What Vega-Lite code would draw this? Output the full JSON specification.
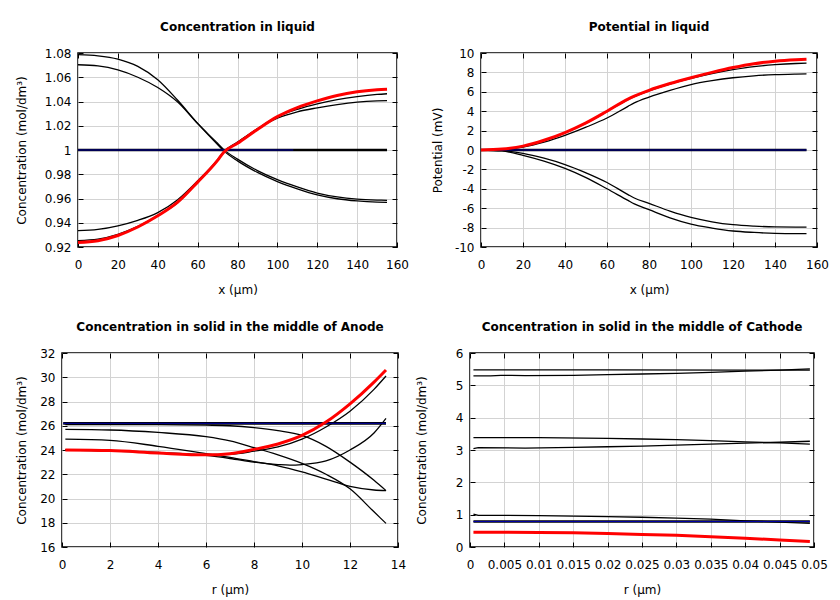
{
  "$schema": "https://vega.github.io/schema/vega-lite/v6.json",
  "padding": {"left": 0, "top": 20, "right": 4, "bottom": 4},
  "background": "white",
  "datasets": {
    "liq": [
      {"x":0,"y":1.0786,"s":"A"},{"x":10,"y":1.0777,"s":"A"},{"x":20,"y":1.075,"s":"A"},{"x":30,"y":1.069,"s":"A"},{"x":40,"y":1.058,"s":"A"},{"x":50,"y":1.041,"s":"A"},{"x":60,"y":1.022,"s":"A"},{"x":70,"y":1.0045,"s":"A"},{"x":73,"y":0.9995,"s":"A"},{"x":80,"y":0.991,"s":"A"},{"x":90,"y":0.9815,"s":"A"},{"x":100,"y":0.974,"s":"A"},{"x":110,"y":0.968,"s":"A"},{"x":120,"y":0.963,"s":"A"},{"x":130,"y":0.9598,"s":"A"},{"x":140,"y":0.958,"s":"A"},{"x":150,"y":0.957,"s":"A"},{"x":155,"y":0.9568,"s":"A"},
      {"x":0,"y":1.0703,"s":"B"},{"x":10,"y":1.0693,"s":"B"},{"x":20,"y":1.066,"s":"B"},{"x":30,"y":1.06,"s":"B"},{"x":40,"y":1.0515,"s":"B"},{"x":50,"y":1.0395,"s":"B"},{"x":60,"y":1.0218,"s":"B"},{"x":70,"y":1.0055,"s":"B"},{"x":73,"y":1.0005,"s":"B"},{"x":80,"y":0.9925,"s":"B"},{"x":90,"y":0.983,"s":"B"},{"x":100,"y":0.9755,"s":"B"},{"x":110,"y":0.9695,"s":"B"},{"x":120,"y":0.9645,"s":"B"},{"x":130,"y":0.9613,"s":"B"},{"x":140,"y":0.9595,"s":"B"},{"x":150,"y":0.9587,"s":"B"},{"x":155,"y":0.9585,"s":"B"},
      {"x":0,"y":0.9335,"s":"C"},{"x":10,"y":0.9345,"s":"C"},{"x":20,"y":0.9375,"s":"C"},{"x":30,"y":0.942,"s":"C"},{"x":40,"y":0.9484,"s":"C"},{"x":50,"y":0.959,"s":"C"},{"x":60,"y":0.9745,"s":"C"},{"x":70,"y":0.992,"s":"C"},{"x":73,"y":0.9985,"s":"C"},{"x":80,"y":1.0065,"s":"C"},{"x":90,"y":1.0175,"s":"C"},{"x":100,"y":1.0262,"s":"C"},{"x":110,"y":1.0315,"s":"C"},{"x":120,"y":1.0348,"s":"C"},{"x":130,"y":1.0375,"s":"C"},{"x":140,"y":1.0395,"s":"C"},{"x":150,"y":1.0405,"s":"C"},{"x":155,"y":1.0407,"s":"C"},
      {"x":0,"y":0.9253,"s":"D"},{"x":10,"y":0.9265,"s":"D"},{"x":20,"y":0.9305,"s":"D"},{"x":30,"y":0.937,"s":"D"},{"x":40,"y":0.946,"s":"D"},{"x":50,"y":0.9565,"s":"D"},{"x":60,"y":0.9735,"s":"D"},{"x":70,"y":0.9915,"s":"D"},{"x":73,"y":0.998,"s":"D"},{"x":80,"y":1.006,"s":"D"},{"x":90,"y":1.0175,"s":"D"},{"x":100,"y":1.0275,"s":"D"},{"x":110,"y":1.0335,"s":"D"},{"x":120,"y":1.038,"s":"D"},{"x":130,"y":1.0415,"s":"D"},{"x":140,"y":1.044,"s":"D"},{"x":150,"y":1.0458,"s":"D"},{"x":155,"y":1.0464,"s":"D"},
      {"x":0,"y":1.0,"s":"flat"},{"x":155,"y":1.0,"s":"flat"},
      {"x":0,"y":1.0,"s":"init"},{"x":108,"y":1.0,"s":"init"},
      {"x":0,"y":0.9238,"s":"last"},{"x":10,"y":0.9252,"s":"last"},{"x":20,"y":0.9295,"s":"last"},{"x":30,"y":0.9365,"s":"last"},{"x":40,"y":0.9457,"s":"last"},{"x":50,"y":0.957,"s":"last"},{"x":60,"y":0.9735,"s":"last"},{"x":70,"y":0.9915,"s":"last"},{"x":73,"y":0.998,"s":"last"},{"x":80,"y":1.0055,"s":"last"},{"x":90,"y":1.017,"s":"last"},{"x":100,"y":1.0275,"s":"last"},{"x":110,"y":1.035,"s":"last"},{"x":120,"y":1.0405,"s":"last"},{"x":130,"y":1.045,"s":"last"},{"x":140,"y":1.048,"s":"last"},{"x":150,"y":1.0497,"s":"last"},{"x":155,"y":1.0502,"s":"last"}
    ],
    "pot": [
      {"x":0,"y":0,"s":"U1"},{"x":10,"y":0.09,"s":"U1"},{"x":20,"y":0.38,"s":"U1"},{"x":30,"y":0.97,"s":"U1"},{"x":40,"y":1.77,"s":"U1"},{"x":50,"y":2.76,"s":"U1"},{"x":60,"y":3.96,"s":"U1"},{"x":70,"y":5.2,"s":"U1"},{"x":73,"y":5.5,"s":"U1"},{"x":80,"y":6.1,"s":"U1"},{"x":90,"y":6.8,"s":"U1"},{"x":100,"y":7.38,"s":"U1"},{"x":110,"y":7.88,"s":"U1"},{"x":120,"y":8.28,"s":"U1"},{"x":130,"y":8.6,"s":"U1"},{"x":140,"y":8.8,"s":"U1"},{"x":150,"y":8.92,"s":"U1"},{"x":155,"y":8.95,"s":"U1"},
      {"x":0,"y":0,"s":"U2"},{"x":10,"y":0.07,"s":"U2"},{"x":20,"y":0.3,"s":"U2"},{"x":30,"y":0.8,"s":"U2"},{"x":40,"y":1.5,"s":"U2"},{"x":50,"y":2.35,"s":"U2"},{"x":60,"y":3.3,"s":"U2"},{"x":70,"y":4.5,"s":"U2"},{"x":73,"y":4.85,"s":"U2"},{"x":80,"y":5.45,"s":"U2"},{"x":90,"y":6.15,"s":"U2"},{"x":100,"y":6.75,"s":"U2"},{"x":110,"y":7.15,"s":"U2"},{"x":120,"y":7.45,"s":"U2"},{"x":130,"y":7.65,"s":"U2"},{"x":140,"y":7.77,"s":"U2"},{"x":150,"y":7.83,"s":"U2"},{"x":155,"y":7.85,"s":"U2"},
      {"x":0,"y":0,"s":"L1"},{"x":10,"y":-0.07,"s":"L1"},{"x":20,"y":-0.35,"s":"L1"},{"x":30,"y":-0.85,"s":"L1"},{"x":40,"y":-1.5,"s":"L1"},{"x":50,"y":-2.35,"s":"L1"},{"x":60,"y":-3.35,"s":"L1"},{"x":70,"y":-4.6,"s":"L1"},{"x":73,"y":-4.95,"s":"L1"},{"x":80,"y":-5.5,"s":"L1"},{"x":90,"y":-6.3,"s":"L1"},{"x":100,"y":-6.95,"s":"L1"},{"x":110,"y":-7.4,"s":"L1"},{"x":120,"y":-7.7,"s":"L1"},{"x":130,"y":-7.85,"s":"L1"},{"x":140,"y":-7.93,"s":"L1"},{"x":150,"y":-7.95,"s":"L1"},{"x":155,"y":-7.95,"s":"L1"},
      {"x":0,"y":0,"s":"L2"},{"x":10,"y":-0.1,"s":"L2"},{"x":20,"y":-0.55,"s":"L2"},{"x":30,"y":-1.15,"s":"L2"},{"x":40,"y":-1.9,"s":"L2"},{"x":50,"y":-2.85,"s":"L2"},{"x":60,"y":-4.0,"s":"L2"},{"x":70,"y":-5.2,"s":"L2"},{"x":73,"y":-5.55,"s":"L2"},{"x":80,"y":-6.15,"s":"L2"},{"x":90,"y":-7.0,"s":"L2"},{"x":100,"y":-7.65,"s":"L2"},{"x":110,"y":-8.05,"s":"L2"},{"x":120,"y":-8.35,"s":"L2"},{"x":130,"y":-8.5,"s":"L2"},{"x":140,"y":-8.6,"s":"L2"},{"x":150,"y":-8.63,"s":"L2"},{"x":155,"y":-8.62,"s":"L2"},
      {"x":0,"y":0,"s":"flat"},{"x":155,"y":0,"s":"flat"},
      {"x":0,"y":0,"s":"init"},{"x":155,"y":0,"s":"init"},
      {"x":0,"y":0,"s":"last"},{"x":10,"y":0.1,"s":"last"},{"x":20,"y":0.4,"s":"last"},{"x":30,"y":1.0,"s":"last"},{"x":40,"y":1.8,"s":"last"},{"x":50,"y":2.8,"s":"last"},{"x":60,"y":4.0,"s":"last"},{"x":70,"y":5.25,"s":"last"},{"x":73,"y":5.55,"s":"last"},{"x":80,"y":6.15,"s":"last"},{"x":90,"y":6.85,"s":"last"},{"x":100,"y":7.45,"s":"last"},{"x":110,"y":8.0,"s":"last"},{"x":120,"y":8.5,"s":"last"},{"x":130,"y":8.9,"s":"last"},{"x":140,"y":9.15,"s":"last"},{"x":150,"y":9.3,"s":"last"},{"x":155,"y":9.35,"s":"last"}
    ],
    "anode": [
      {"x":0.14,"y":26.1,"s":"P"},{"x":2,"y":26.1,"s":"P"},{"x":4,"y":26.1,"s":"P"},{"x":6,"y":26.05,"s":"P"},{"x":7,"y":26.0,"s":"P"},{"x":8,"y":25.85,"s":"P"},{"x":9,"y":25.6,"s":"P"},{"x":10,"y":25.2,"s":"P"},{"x":11,"y":24.3,"s":"P"},{"x":12,"y":23.0,"s":"P"},{"x":13,"y":21.5,"s":"P"},{"x":13.5,"y":20.65,"s":"P"},
      {"x":0.14,"y":25.7,"s":"Q"},{"x":2,"y":25.65,"s":"Q"},{"x":4,"y":25.45,"s":"Q"},{"x":6,"y":25.1,"s":"Q"},{"x":7,"y":24.75,"s":"Q"},{"x":8,"y":24.2,"s":"Q"},{"x":9,"y":23.6,"s":"Q"},{"x":10,"y":22.9,"s":"Q"},{"x":11,"y":22.0,"s":"Q"},{"x":12,"y":20.8,"s":"Q"},{"x":13,"y":18.9,"s":"Q"},{"x":13.5,"y":17.95,"s":"Q"},
      {"x":0.14,"y":24.9,"s":"S"},{"x":2,"y":24.8,"s":"S"},{"x":4,"y":24.3,"s":"S"},{"x":6,"y":23.7,"s":"S"},{"x":7,"y":23.4,"s":"S"},{"x":8,"y":23.05,"s":"S"},{"x":9,"y":22.7,"s":"S"},{"x":10,"y":22.2,"s":"S"},{"x":11,"y":21.6,"s":"S"},{"x":12,"y":21.0,"s":"S"},{"x":13,"y":20.7,"s":"S"},{"x":13.5,"y":20.65,"s":"S"},
      {"x":0.14,"y":24.0,"s":"R"},{"x":2,"y":23.95,"s":"R"},{"x":4,"y":23.8,"s":"R"},{"x":6,"y":23.55,"s":"R"},{"x":7,"y":23.3,"s":"R"},{"x":8,"y":23.0,"s":"R"},{"x":9,"y":22.8,"s":"R"},{"x":9.5,"y":22.75,"s":"R"},{"x":10,"y":22.8,"s":"R"},{"x":11,"y":23.1,"s":"R"},{"x":12,"y":24.0,"s":"R"},{"x":13,"y":25.4,"s":"R"},{"x":13.5,"y":26.6,"s":"R"},
      {"x":0.14,"y":24.0,"s":"T"},{"x":2,"y":23.93,"s":"T"},{"x":4,"y":23.75,"s":"T"},{"x":6,"y":23.62,"s":"T"},{"x":7,"y":23.65,"s":"T"},{"x":8,"y":23.9,"s":"T"},{"x":9,"y":24.25,"s":"T"},{"x":10,"y":24.9,"s":"T"},{"x":11,"y":25.9,"s":"T"},{"x":12,"y":27.2,"s":"T"},{"x":13,"y":29.0,"s":"T"},{"x":13.5,"y":30.1,"s":"T"},
      {"x":0.05,"y":26.2,"s":"flat"},{"x":13.5,"y":26.2,"s":"flat"},
      {"x":0.05,"y":26.2,"s":"init"},{"x":13.5,"y":26.2,"s":"init"},
      {"x":0.14,"y":24.0,"s":"last"},{"x":2,"y":23.95,"s":"last"},{"x":4,"y":23.75,"s":"last"},{"x":6,"y":23.6,"s":"last"},{"x":7,"y":23.7,"s":"last"},{"x":8,"y":24.05,"s":"last"},{"x":9,"y":24.5,"s":"last"},{"x":10,"y":25.2,"s":"last"},{"x":11,"y":26.3,"s":"last"},{"x":12,"y":27.8,"s":"last"},{"x":13,"y":29.6,"s":"last"},{"x":13.5,"y":30.6,"s":"last"}
    ],
    "cath": [
      {"x":0.0005,"y":5.48,"s":"K1"},{"x":0.02,"y":5.48,"s":"K1"},{"x":0.04,"y":5.47,"s":"K1"},{"x":0.0494,"y":5.47,"s":"K1"},
      {"x":0.0005,"y":5.29,"s":"K2"},{"x":0.003,"y":5.29,"s":"K2"},{"x":0.0045,"y":5.31,"s":"K2"},{"x":0.006,"y":5.31,"s":"K2"},{"x":0.008,"y":5.3,"s":"K2"},{"x":0.015,"y":5.31,"s":"K2"},{"x":0.02,"y":5.33,"s":"K2"},{"x":0.025,"y":5.35,"s":"K2"},{"x":0.03,"y":5.37,"s":"K2"},{"x":0.035,"y":5.4,"s":"K2"},{"x":0.04,"y":5.44,"s":"K2"},{"x":0.045,"y":5.47,"s":"K2"},{"x":0.0494,"y":5.51,"s":"K2"},
      {"x":0.0005,"y":3.38,"s":"K3"},{"x":0.01,"y":3.38,"s":"K3"},{"x":0.02,"y":3.36,"s":"K3"},{"x":0.025,"y":3.34,"s":"K3"},{"x":0.03,"y":3.32,"s":"K3"},{"x":0.035,"y":3.29,"s":"K3"},{"x":0.04,"y":3.25,"s":"K3"},{"x":0.045,"y":3.22,"s":"K3"},{"x":0.0494,"y":3.18,"s":"K3"},
      {"x":0.0005,"y":3.04,"s":"K4"},{"x":0.0012,"y":3.07,"s":"K4"},{"x":0.008,"y":3.06,"s":"K4"},{"x":0.015,"y":3.08,"s":"K4"},{"x":0.02,"y":3.1,"s":"K4"},{"x":0.025,"y":3.12,"s":"K4"},{"x":0.03,"y":3.15,"s":"K4"},{"x":0.035,"y":3.18,"s":"K4"},{"x":0.04,"y":3.21,"s":"K4"},{"x":0.045,"y":3.24,"s":"K4"},{"x":0.0494,"y":3.27,"s":"K4"},
      {"x":0.0005,"y":1.02,"s":"K5"},{"x":0.0012,"y":0.98,"s":"K5"},{"x":0.005,"y":0.98,"s":"K5"},{"x":0.01,"y":0.97,"s":"K5"},{"x":0.015,"y":0.955,"s":"K5"},{"x":0.02,"y":0.94,"s":"K5"},{"x":0.025,"y":0.92,"s":"K5"},{"x":0.03,"y":0.89,"s":"K5"},{"x":0.035,"y":0.86,"s":"K5"},{"x":0.04,"y":0.81,"s":"K5"},{"x":0.045,"y":0.77,"s":"K5"},{"x":0.0494,"y":0.73,"s":"K5"},
      {"x":0.0005,"y":0.79,"s":"flat"},{"x":0.0494,"y":0.79,"s":"flat"},
      {"x":0.0005,"y":0.79,"s":"init"},{"x":0.0494,"y":0.79,"s":"init"},
      {"x":0.0005,"y":0.46,"s":"last"},{"x":0.005,"y":0.46,"s":"last"},{"x":0.01,"y":0.45,"s":"last"},{"x":0.015,"y":0.44,"s":"last"},{"x":0.02,"y":0.42,"s":"last"},{"x":0.025,"y":0.39,"s":"last"},{"x":0.03,"y":0.36,"s":"last"},{"x":0.035,"y":0.32,"s":"last"},{"x":0.04,"y":0.27,"s":"last"},{"x":0.045,"y":0.22,"s":"last"},{"x":0.0494,"y":0.17,"s":"last"}
    ]
  },
  "columns": 3,
  "align": "none",
  "spacing": {"row": 24, "column": 7},
  "concat": [
    {
      "width": 1, "height": 1,
      "data": {"values": [{"k": 0}]},
      "mark": {"type": "point", "opacity": 0},
      "view": {"stroke": null}
    },
    {
      "title": "Concentration in liquid",
      "width": 319, "height": 194,
      "data": {"name": "liq"},
      "resolve": {"axis": {"x": "independent", "y": "independent"}},
      "layer": [
        {
          "transform": [{"filter": "datum.s != 'flat' && datum.s != 'init' && datum.s != 'last'"}],
          "mark": {"type": "line", "color": "black", "strokeWidth": 1.3, "interpolate": "monotone"},
          "encoding": {
            "x": {"field": "x", "type": "quantitative", "scale": {"domain": [0, 160], "nice": false, "zero": false}, "axis": {"title": "x (μm)", "values": [0,20,40,60,80,100,120,140,160], "format": "d"}},
            "y": {"field": "y", "type": "quantitative", "scale": {"domain": [0.92, 1.08], "nice": false, "zero": false}, "axis": {"title": "Concentration (mol/dm³)", "titlePadding": 16, "values": [0.92,0.94,0.96,0.98,1,1.02,1.04,1.06,1.08], "format": ".2~f"}},
            "detail": {"field": "s"}
          }
        },
        {
          "transform": [{"filter": "datum.s == 'flat'"}],
          "mark": {"type": "line", "color": "black", "strokeWidth": 2.6},
          "encoding": {"x": {"field": "x", "type": "quantitative", "axis": null}, "y": {"field": "y", "type": "quantitative", "axis": null}}
        },
        {
          "transform": [{"filter": "datum.s == 'init'"}],
          "mark": {"type": "line", "color": "#0000aa", "strokeWidth": 1},
          "encoding": {"x": {"field": "x", "type": "quantitative", "axis": null}, "y": {"field": "y", "type": "quantitative", "axis": null}}
        },
        {
          "transform": [{"filter": "datum.s == 'last'"}],
          "mark": {"type": "line", "color": "#ff0000", "strokeWidth": 3, "interpolate": "monotone"},
          "encoding": {
            "x": {"field": "x", "type": "quantitative", "axis": {"orient": "top", "labels": false, "title": null, "grid": false, "values": [0,20,40,60,80,100,120,140,160]}},
            "y": {"field": "y", "type": "quantitative", "axis": {"orient": "right", "labels": false, "title": null, "grid": false, "values": [0.92,0.94,0.96,0.98,1,1.02,1.04,1.06,1.08]}}
          }
        }
      ]
    },
    {
      "title": "Potential in liquid",
      "width": 336, "height": 194,
      "data": {"name": "pot"},
      "resolve": {"axis": {"x": "independent", "y": "independent"}},
      "layer": [
        {
          "transform": [{"filter": "datum.s != 'flat' && datum.s != 'init' && datum.s != 'last'"}],
          "mark": {"type": "line", "color": "black", "strokeWidth": 1.3, "interpolate": "monotone"},
          "encoding": {
            "x": {"field": "x", "type": "quantitative", "scale": {"domain": [0, 160], "nice": false, "zero": false}, "axis": {"title": "x (μm)", "values": [0,20,40,60,80,100,120,140,160], "format": "d"}},
            "y": {"field": "y", "type": "quantitative", "scale": {"domain": [-10, 10], "nice": false, "zero": false}, "axis": {"title": "Potential (mV)", "titlePadding": 10, "values": [-10,-8,-6,-4,-2,0,2,4,6,8,10], "labelExpr": "toString(datum.value)"}},
            "detail": {"field": "s"}
          }
        },
        {
          "transform": [{"filter": "datum.s == 'flat'"}],
          "mark": {"type": "line", "color": "black", "strokeWidth": 2.6},
          "encoding": {"x": {"field": "x", "type": "quantitative", "axis": null}, "y": {"field": "y", "type": "quantitative", "axis": null}}
        },
        {
          "transform": [{"filter": "datum.s == 'init'"}],
          "mark": {"type": "line", "color": "#0000aa", "strokeWidth": 1},
          "encoding": {"x": {"field": "x", "type": "quantitative", "axis": null}, "y": {"field": "y", "type": "quantitative", "axis": null}}
        },
        {
          "transform": [{"filter": "datum.s == 'last'"}],
          "mark": {"type": "line", "color": "#ff0000", "strokeWidth": 3, "interpolate": "monotone"},
          "encoding": {
            "x": {"field": "x", "type": "quantitative", "axis": {"orient": "top", "labels": false, "title": null, "grid": false, "values": [0,20,40,60,80,100,120,140,160]}},
            "y": {"field": "y", "type": "quantitative", "axis": {"orient": "right", "labels": false, "title": null, "grid": false, "values": [-10,-8,-6,-4,-2,0,2,4,6,8,10]}}
          }
        }
      ]
    },
    {
      "width": 1, "height": 1,
      "data": {"values": [{"k": 0}]},
      "mark": {"type": "point", "opacity": 0},
      "view": {"stroke": null}
    },
    {
      "title": "Concentration in solid in the middle of Anode",
      "width": 336, "height": 194,
      "data": {"name": "anode"},
      "resolve": {"axis": {"x": "independent", "y": "independent"}},
      "layer": [
        {
          "transform": [{"filter": "datum.s != 'flat' && datum.s != 'init' && datum.s != 'last'"}],
          "mark": {"type": "line", "color": "black", "strokeWidth": 1.3, "interpolate": "monotone"},
          "encoding": {
            "x": {"field": "x", "type": "quantitative", "scale": {"domain": [0, 14], "nice": false, "zero": false}, "axis": {"title": "r (μm)", "values": [0,2,4,6,8,10,12,14], "format": "d"}},
            "y": {"field": "y", "type": "quantitative", "scale": {"domain": [16, 32], "nice": false, "zero": false}, "axis": {"title": "Concentration (mol/dm³)", "titlePadding": 11, "values": [16,18,20,22,24,26,28,30,32], "format": "d"}},
            "detail": {"field": "s"}
          }
        },
        {
          "transform": [{"filter": "datum.s == 'flat'"}],
          "mark": {"type": "line", "color": "black", "strokeWidth": 2.6},
          "encoding": {"x": {"field": "x", "type": "quantitative", "axis": null}, "y": {"field": "y", "type": "quantitative", "axis": null}}
        },
        {
          "transform": [{"filter": "datum.s == 'init'"}],
          "mark": {"type": "line", "color": "#0000aa", "strokeWidth": 1},
          "encoding": {"x": {"field": "x", "type": "quantitative", "axis": null}, "y": {"field": "y", "type": "quantitative", "axis": null}}
        },
        {
          "transform": [{"filter": "datum.s == 'last'"}],
          "mark": {"type": "line", "color": "#ff0000", "strokeWidth": 3, "interpolate": "monotone"},
          "encoding": {
            "x": {"field": "x", "type": "quantitative", "axis": {"orient": "top", "labels": false, "title": null, "grid": false, "values": [0,2,4,6,8,10,12,14]}},
            "y": {"field": "y", "type": "quantitative", "axis": {"orient": "right", "labels": false, "title": null, "grid": false, "values": [16,18,20,22,24,26,28,30,32]}}
          }
        }
      ]
    },
    {
      "title": "Concentration in solid in the middle of Cathode",
      "width": 344, "height": 194,
      "data": {"name": "cath"},
      "resolve": {"axis": {"x": "independent", "y": "independent"}},
      "layer": [
        {
          "transform": [{"filter": "datum.s != 'flat' && datum.s != 'init' && datum.s != 'last'"}],
          "mark": {"type": "line", "color": "black", "strokeWidth": 1.3},
          "encoding": {
            "x": {"field": "x", "type": "quantitative", "scale": {"domain": [0, 0.05], "nice": false, "zero": false}, "axis": {"title": "r (μm)", "values": [0,0.005,0.01,0.015,0.02,0.025,0.03,0.035,0.04,0.045,0.05], "format": ".3~f"}},
            "y": {"field": "y", "type": "quantitative", "scale": {"domain": [0, 6], "nice": false, "zero": false}, "axis": {"title": "Concentration (mol/dm³)", "titlePadding": 27, "values": [0,1,2,3,4,5,6], "format": "d"}},
            "detail": {"field": "s"}
          }
        },
        {
          "transform": [{"filter": "datum.s == 'flat'"}],
          "mark": {"type": "line", "color": "black", "strokeWidth": 2.6},
          "encoding": {"x": {"field": "x", "type": "quantitative", "axis": null}, "y": {"field": "y", "type": "quantitative", "axis": null}}
        },
        {
          "transform": [{"filter": "datum.s == 'init'"}],
          "mark": {"type": "line", "color": "#0000aa", "strokeWidth": 1},
          "encoding": {"x": {"field": "x", "type": "quantitative", "axis": null}, "y": {"field": "y", "type": "quantitative", "axis": null}}
        },
        {
          "transform": [{"filter": "datum.s == 'last'"}],
          "mark": {"type": "line", "color": "#ff0000", "strokeWidth": 3},
          "encoding": {
            "x": {"field": "x", "type": "quantitative", "axis": {"orient": "top", "labels": false, "title": null, "grid": false, "values": [0,0.005,0.01,0.015,0.02,0.025,0.03,0.035,0.04,0.045,0.05]}},
            "y": {"field": "y", "type": "quantitative", "axis": {"orient": "right", "labels": false, "title": null, "grid": false, "values": [0,1,2,3,4,5,6]}}
          }
        }
      ]
    }
  ],
  "config": {
    "font": "DejaVu Sans",
    "view": {"stroke": "black", "strokeWidth": 1.5},
    "axis": {
      "grid": true, "gridColor": "#d3d3d3", "gridWidth": 1,
      "domain": false,
      "tickColor": "black", "tickSize": -5, "tickWidth": 1,
      "labelFont": "DejaVu Sans", "labelFontSize": 12, "labelColor": "black",
      "labelFlush": false, "labelOverlap": false,
      "titleFont": "DejaVu Sans", "titleFontSize": 12, "titleFontWeight": "normal", "titleColor": "black"
    },
    "axisX": {"labelPadding": 17, "titlePadding": 14},
    "axisY": {"labelPadding": 12, "minExtent": 0},
    "title": {"font": "DejaVu Sans", "fontSize": 12, "fontWeight": "bold", "color": "black", "anchor": "middle", "frame": "group", "offset": 13}
  }
}
